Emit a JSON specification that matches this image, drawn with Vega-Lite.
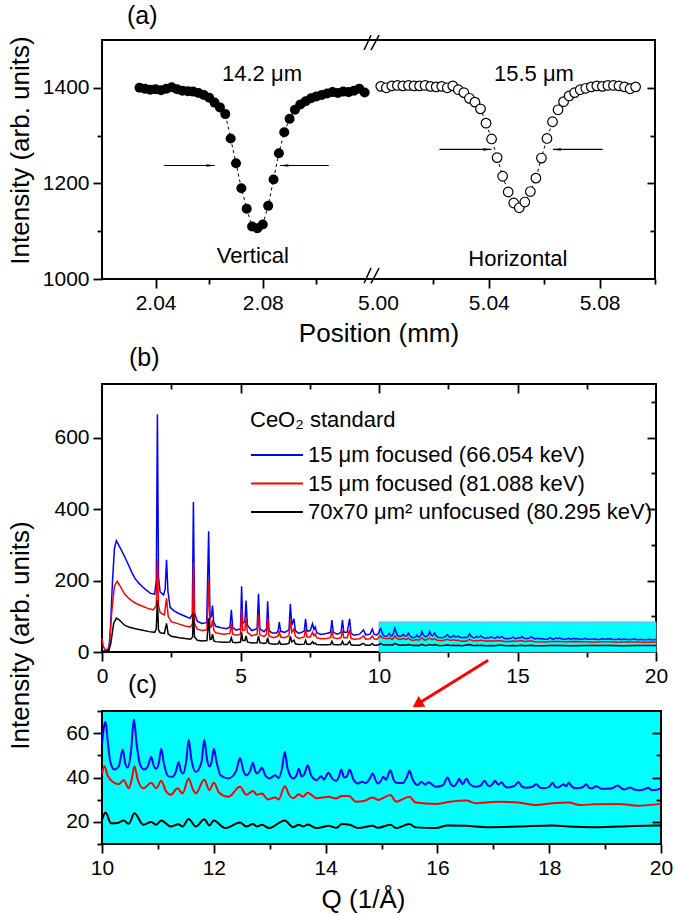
{
"$schema": "https://vega.github.io/schema/vega-lite/v6.json",
"padding": {"left": 5, "top": 3, "right": 5, "bottom": 5},
"background": "white",
"config": {
 "font": "Liberation Sans",
 "view": {"stroke": "black", "strokeWidth": 2},
 "axis": {"domain": false, "grid": false, "labelFontSize": 21, "labelColor": "black", "labelFont": "Liberation Sans", "titleFont": "Liberation Sans", "titleFontSize": 26, "titleFontWeight": "normal", "titleColor": "black", "tickColor": "black", "tickWidth": 1.8, "labelFlush": false, "labelOverlap": false, "labelPadding": 4},
 "title": {"font": "Liberation Sans", "fontSize": 25, "fontWeight": "normal", "color": "black", "anchor": "start", "frame": "group"}
},
"datasets": {
 "scan": [
  {"x":2.034,"y":1400,"d":"V"},{"x":2.036,"y":1398,"d":"V"},{"x":2.038,"y":1396,"d":"V"},{"x":2.040,"y":1397,"d":"V"},{"x":2.042,"y":1395,"d":"V"},{"x":2.044,"y":1398,"d":"V"},{"x":2.046,"y":1401,"d":"V"},{"x":2.048,"y":1397,"d":"V"},{"x":2.050,"y":1394,"d":"V"},{"x":2.052,"y":1393,"d":"V"},{"x":2.054,"y":1392,"d":"V"},{"x":2.056,"y":1389,"d":"V"},{"x":2.058,"y":1385,"d":"V"},{"x":2.060,"y":1379,"d":"V"},{"x":2.062,"y":1369,"d":"V"},{"x":2.064,"y":1359,"d":"V"},{"x":2.066,"y":1345,"d":"V"},{"x":2.068,"y":1294,"d":"V"},{"x":2.070,"y":1242,"d":"V"},{"x":2.072,"y":1190,"d":"V"},{"x":2.074,"y":1147,"d":"V"},{"x":2.076,"y":1110,"d":"V"},{"x":2.078,"y":1106,"d":"V"},{"x":2.080,"y":1114,"d":"V"},{"x":2.082,"y":1153,"d":"V"},{"x":2.084,"y":1208,"d":"V"},{"x":2.086,"y":1263,"d":"V"},{"x":2.088,"y":1307,"d":"V"},{"x":2.090,"y":1335,"d":"V"},{"x":2.092,"y":1354,"d":"V"},{"x":2.094,"y":1365,"d":"V"},{"x":2.096,"y":1372,"d":"V"},{"x":2.098,"y":1378,"d":"V"},{"x":2.100,"y":1382,"d":"V"},{"x":2.102,"y":1385,"d":"V"},{"x":2.104,"y":1388,"d":"V"},{"x":2.106,"y":1391,"d":"V"},{"x":2.108,"y":1389,"d":"V"},{"x":2.110,"y":1392,"d":"V"},{"x":2.112,"y":1391,"d":"V"},{"x":2.114,"y":1394,"d":"V"},{"x":2.116,"y":1398,"d":"V"},{"x":2.118,"y":1390,"d":"V"},
  {"x":5.001,"y":1403,"d":"H"},{"x":5.003,"y":1400,"d":"H"},{"x":5.005,"y":1404,"d":"H"},{"x":5.007,"y":1405,"d":"H"},{"x":5.009,"y":1404,"d":"H"},{"x":5.011,"y":1405,"d":"H"},{"x":5.013,"y":1404,"d":"H"},{"x":5.015,"y":1404,"d":"H"},{"x":5.017,"y":1405,"d":"H"},{"x":5.019,"y":1403,"d":"H"},{"x":5.021,"y":1402,"d":"H"},{"x":5.023,"y":1403,"d":"H"},{"x":5.025,"y":1400,"d":"H"},{"x":5.027,"y":1404,"d":"H"},{"x":5.029,"y":1396,"d":"H"},{"x":5.031,"y":1390,"d":"H"},{"x":5.033,"y":1378,"d":"H"},{"x":5.035,"y":1370,"d":"H"},{"x":5.037,"y":1356,"d":"H"},{"x":5.039,"y":1326,"d":"H"},{"x":5.041,"y":1293,"d":"H"},{"x":5.043,"y":1254,"d":"H"},{"x":5.045,"y":1215,"d":"H"},{"x":5.047,"y":1182,"d":"H"},{"x":5.049,"y":1159,"d":"H"},{"x":5.051,"y":1149,"d":"H"},{"x":5.053,"y":1161,"d":"H"},{"x":5.055,"y":1183,"d":"H"},{"x":5.057,"y":1211,"d":"H"},{"x":5.059,"y":1253,"d":"H"},{"x":5.061,"y":1294,"d":"H"},{"x":5.063,"y":1329,"d":"H"},{"x":5.065,"y":1354,"d":"H"},{"x":5.067,"y":1371,"d":"H"},{"x":5.069,"y":1383,"d":"H"},{"x":5.071,"y":1390,"d":"H"},{"x":5.073,"y":1396,"d":"H"},{"x":5.075,"y":1399,"d":"H"},{"x":5.077,"y":1402,"d":"H"},{"x":5.079,"y":1404,"d":"H"},{"x":5.081,"y":1403,"d":"H"},{"x":5.083,"y":1405,"d":"H"},{"x":5.085,"y":1405,"d":"H"},{"x":5.087,"y":1404,"d":"H"},{"x":5.089,"y":1402,"d":"H"},{"x":5.091,"y":1398,"d":"H"},{"x":5.093,"y":1402,"d":"H"}
 ],
 "scanlab": [
  {"x":2.0797,"y":1414,"t":"14.2 μm"},{"x":5.0563,"y":1414,"t":"15.5 μm"},{"x":2.0763,"y":1033,"t":"Vertical"},{"x":5.0505,"y":1027,"t":"Horizontal"}
 ],
 "scanarrow": [
  {"x":2.0432,"x2":2.0620,"hx":2.0601,"y":1237.5,"dir":"right"},
  {"x":2.1046,"x2":2.0865,"hx":2.0884,"y":1237.5,"dir":"left"},
  {"x":5.0222,"x2":5.0409,"hx":5.0391,"y":1271,"dir":"right"},
  {"x":5.0811,"x2":5.0632,"hx":5.0650,"y":1271,"dir":"left"}
 ],
 "brk": [
  {"x":2.1178,"y":1479,"x2":2.48,"y2":1510},
  {"x":2.48,"y":1479,"x2":5.0004,"y2":1510},
  {"x":2.1178,"y":991,"x2":2.48,"y2":1023},
  {"x":2.48,"y":991,"x2":5.0004,"y2":1023}
 ],
 "box": [{"q":10,"q2":20,"I":0,"I2":84}],
 "redarrow": [{"q":13.94,"I":-23,"q2":11.44,"I2":-143.5}],
 "spec": [
  {"q":0,"I":2,"s":"B"},{"q":0.1,"I":3,"s":"B"},{"q":0.2,"I":5,"s":"B"},{"q":0.25,"I":10,"s":"B"},{"q":0.3,"I":60,"s":"B"},{"q":0.38,"I":200,"s":"B"},{"q":0.45,"I":290,"s":"B"},{"q":0.52,"I":312,"s":"B"},{"q":0.6,"I":300,"s":"B"},{"q":0.7,"I":285,"s":"B"},{"q":0.81,"I":268,"s":"B"},{"q":0.95,"I":245,"s":"B"},{"q":1.08,"I":222,"s":"B"},{"q":1.2,"I":205,"s":"B"},{"q":1.34,"I":192,"s":"B"},{"q":1.47,"I":182,"s":"B"},{"q":1.6,"I":173,"s":"B"},{"q":1.75,"I":164,"s":"B"},{"q":1.9,"I":162,"s":"B"},{"q":1.96,"I":200,"s":"B"},{"q":2.0,"I":665,"s":"B"},{"q":2.04,"I":210,"s":"B"},{"q":2.1,"I":168,"s":"B"},{"q":2.22,"I":160,"s":"B"},{"q":2.28,"I":175,"s":"B"},{"q":2.33,"I":258,"s":"B"},{"q":2.38,"I":170,"s":"B"},{"q":2.46,"I":125,"s":"B"},{"q":2.6,"I":115,"s":"B"},{"q":2.79,"I":107,"s":"B"},{"q":3.0,"I":100,"s":"B"},{"q":3.18,"I":94,"s":"B"},{"q":3.26,"I":105,"s":"B"},{"q":3.3,"I":420,"s":"B"},{"q":3.34,"I":110,"s":"B"},{"q":3.44,"I":86,"s":"B"},{"q":3.6,"I":80,"s":"B"},{"q":3.78,"I":82,"s":"B"},{"q":3.85,"I":338,"s":"B"},{"q":3.9,"I":95,"s":"B"},{"q":3.95,"I":100,"s":"B"},{"q":3.99,"I":130,"s":"B"},{"q":4.03,"I":85,"s":"B"},{"q":4.1,"I":72,"s":"B"},{"q":4.3,"I":68,"s":"B"},{"q":4.5,"I":65,"s":"B"},{"q":4.62,"I":70,"s":"B"},{"q":4.67,"I":118,"s":"B"},{"q":4.72,"I":68,"s":"B"},{"q":4.85,"I":61,"s":"B"},{"q":5.0,"I":65,"s":"B"},{"q":5.04,"I":184,"s":"B"},{"q":5.08,"I":80,"s":"B"},{"q":5.16,"I":85,"s":"B"},{"q":5.2,"I":144,"s":"B"},{"q":5.25,"I":75,"s":"B"},{"q":5.4,"I":60,"s":"B"},{"q":5.6,"I":65,"s":"B"},{"q":5.65,"I":163,"s":"B"},{"q":5.7,"I":65,"s":"B"},{"q":5.85,"I":57,"s":"B"},{"q":5.94,"I":65,"s":"B"},{"q":5.98,"I":142,"s":"B"},{"q":6.03,"I":60,"s":"B"},{"q":6.15,"I":53,"s":"B"},{"q":6.3,"I":53,"s":"B"},{"q":6.36,"I":60,"s":"B"},{"q":6.4,"I":84,"s":"B"},{"q":6.45,"I":58,"s":"B"},{"q":6.6,"I":55,"s":"B"},{"q":6.75,"I":62,"s":"B"},{"q":6.8,"I":135,"s":"B"},{"q":6.85,"I":75,"s":"B"},{"q":6.93,"I":93,"s":"B"},{"q":6.98,"I":60,"s":"B"},{"q":7.1,"I":52,"s":"B"},{"q":7.3,"I":58,"s":"B"},{"q":7.35,"I":93,"s":"B"},{"q":7.4,"I":58,"s":"B"},{"q":7.52,"I":60,"s":"B"},{"q":7.6,"I":79,"s":"B"},{"q":7.65,"I":63,"s":"B"},{"q":7.7,"I":70,"s":"B"},{"q":7.75,"I":54,"s":"B"},{"q":7.9,"I":49,"s":"B"},{"q":8.1,"I":52,"s":"B"},{"q":8.25,"I":55,"s":"B"},{"q":8.3,"I":89,"s":"B"},{"q":8.35,"I":55,"s":"B"},{"q":8.5,"I":50,"s":"B"},{"q":8.63,"I":55,"s":"B"},{"q":8.68,"I":90,"s":"B"},{"q":8.73,"I":55,"s":"B"},{"q":8.85,"I":55,"s":"B"},{"q":8.94,"I":93,"s":"B"},{"q":8.99,"I":52,"s":"B"},{"q":9.1,"I":47,"s":"B"},{"q":9.3,"I":50,"s":"B"},{"q":9.44,"I":62,"s":"B"},{"q":9.52,"I":48,"s":"B"},{"q":9.68,"I":50,"s":"B"},{"q":9.76,"I":64,"s":"B"},{"q":9.82,"I":50,"s":"B"},{"q":9.92,"I":47,"s":"B"},
  {"q":10.0,"I":55,"s":"B"},{"q":10.03,"I":62,"s":"B"},{"q":10.065,"I":65.2,"s":"B"},{"q":10.1,"I":57,"s":"B"},{"q":10.15,"I":47,"s":"B"},{"q":10.22,"I":43.6,"s":"B"},{"q":10.3,"I":45,"s":"B"},{"q":10.37,"I":52.5,"s":"B"},{"q":10.42,"I":46,"s":"B"},{"q":10.46,"I":44.5,"s":"B"},{"q":10.52,"I":52,"s":"B"},{"q":10.57,"I":66.3,"s":"B"},{"q":10.62,"I":55,"s":"B"},{"q":10.68,"I":46,"s":"B"},{"q":10.75,"I":43.6,"s":"B"},{"q":10.82,"I":45,"s":"B"},{"q":10.88,"I":49.3,"s":"B"},{"q":10.93,"I":45,"s":"B"},{"q":10.97,"I":44,"s":"B"},{"q":11.02,"I":47,"s":"B"},{"q":11.06,"I":53,"s":"B"},{"q":11.11,"I":46,"s":"B"},{"q":11.19,"I":40.5,"s":"B"},{"q":11.26,"I":40.3,"s":"B"},{"q":11.32,"I":42.5,"s":"B"},{"q":11.37,"I":47,"s":"B"},{"q":11.41,"I":43,"s":"B"},{"q":11.45,"I":41.8,"s":"B"},{"q":11.51,"I":48,"s":"B"},{"q":11.55,"I":57,"s":"B"},{"q":11.6,"I":48,"s":"B"},{"q":11.68,"I":42.5,"s":"B"},{"q":11.78,"I":47,"s":"B"},{"q":11.83,"I":57,"s":"B"},{"q":11.88,"I":48,"s":"B"},{"q":11.92,"I":45,"s":"B"},{"q":11.96,"I":47,"s":"B"},{"q":12.0,"I":53,"s":"B"},{"q":12.05,"I":47,"s":"B"},{"q":12.12,"I":41,"s":"B"},{"q":12.26,"I":39.6,"s":"B"},{"q":12.4,"I":43,"s":"B"},{"q":12.47,"I":48.8,"s":"B"},{"q":12.53,"I":43,"s":"B"},{"q":12.58,"I":41,"s":"B"},{"q":12.65,"I":43,"s":"B"},{"q":12.7,"I":46.6,"s":"B"},{"q":12.74,"I":43,"s":"B"},{"q":12.77,"I":41.8,"s":"B"},{"q":12.82,"I":43,"s":"B"},{"q":12.86,"I":44.5,"s":"B"},{"q":12.92,"I":41,"s":"B"},{"q":12.99,"I":39.6,"s":"B"},{"q":13.1,"I":41,"s":"B"},{"q":13.16,"I":39.8,"s":"B"},{"q":13.22,"I":44,"s":"B"},{"q":13.27,"I":51.5,"s":"B"},{"q":13.32,"I":44,"s":"B"},{"q":13.42,"I":39.6,"s":"B"},{"q":13.48,"I":41,"s":"B"},{"q":13.52,"I":44,"s":"B"},{"q":13.57,"I":40.5,"s":"B"},{"q":13.62,"I":41.5,"s":"B"},{"q":13.68,"I":45.5,"s":"B"},{"q":13.74,"I":41,"s":"B"},{"q":13.84,"I":38.8,"s":"B"},{"q":13.92,"I":40.6,"s":"B"},{"q":13.97,"I":39.1,"s":"B"},{"q":14.05,"I":42.1,"s":"B"},{"q":14.12,"I":39.5,"s":"B"},{"q":14.19,"I":38.5,"s":"B"},{"q":14.24,"I":40.5,"s":"B"},{"q":14.28,"I":43.6,"s":"B"},{"q":14.33,"I":40,"s":"B"},{"q":14.38,"I":40.5,"s":"B"},{"q":14.43,"I":43.6,"s":"B"},{"q":14.5,"I":39,"s":"B"},{"q":14.58,"I":37.3,"s":"B"},{"q":14.65,"I":38.1,"s":"B"},{"q":14.72,"I":37.5,"s":"B"},{"q":14.79,"I":39.5,"s":"B"},{"q":14.84,"I":41.8,"s":"B"},{"q":14.9,"I":38.5,"s":"B"},{"q":14.94,"I":37.3,"s":"B"},{"q":15.0,"I":39,"s":"B"},{"q":15.03,"I":40.3,"s":"B"},{"q":15.08,"I":39,"s":"B"},{"q":15.16,"I":43.3,"s":"B"},{"q":15.21,"I":39.5,"s":"B"},{"q":15.26,"I":37.6,"s":"B"},{"q":15.38,"I":37.5,"s":"B"},{"q":15.45,"I":40,"s":"B"},{"q":15.5,"I":43,"s":"B"},{"q":15.56,"I":39,"s":"B"},{"q":15.65,"I":36.6,"s":"B"},{"q":15.71,"I":38.1,"s":"B"},{"q":15.78,"I":36.8,"s":"B"},{"q":15.84,"I":37.9,"s":"B"},{"q":15.97,"I":35.8,"s":"B"},{"q":16.1,"I":36.5,"s":"B"},{"q":16.18,"I":40,"s":"B"},{"q":16.24,"I":37,"s":"B"},{"q":16.29,"I":36.1,"s":"B"},{"q":16.35,"I":37.5,"s":"B"},{"q":16.39,"I":39.4,"s":"B"},{"q":16.45,"I":37,"s":"B"},{"q":16.52,"I":39.4,"s":"B"},{"q":16.58,"I":37,"s":"B"},{"q":16.68,"I":35.8,"s":"B"},{"q":16.78,"I":36.5,"s":"B"},{"q":16.84,"I":38.5,"s":"B"},{"q":16.9,"I":36.5,"s":"B"},{"q":16.94,"I":36.1,"s":"B"},{"q":16.99,"I":37.2,"s":"B"},{"q":17.03,"I":38.5,"s":"B"},{"q":17.09,"I":36.8,"s":"B"},{"q":17.15,"I":37.9,"s":"B"},{"q":17.2,"I":36.2,"s":"B"},{"q":17.26,"I":35.5,"s":"B"},{"q":17.38,"I":36.2,"s":"B"},{"q":17.45,"I":38,"s":"B"},{"q":17.51,"I":36,"s":"B"},{"q":17.58,"I":35.4,"s":"B"},{"q":17.7,"I":35.8,"s":"B"},{"q":17.77,"I":36.9,"s":"B"},{"q":17.84,"I":35.4,"s":"B"},{"q":17.9,"I":35.2,"s":"B"},{"q":18.0,"I":35.8,"s":"B"},{"q":18.06,"I":37.6,"s":"B"},{"q":18.11,"I":35.8,"s":"B"},{"q":18.16,"I":35.5,"s":"B"},{"q":18.26,"I":37,"s":"B"},{"q":18.3,"I":36,"s":"B"},{"q":18.35,"I":37.6,"s":"B"},{"q":18.41,"I":35.8,"s":"B"},{"q":18.48,"I":35.2,"s":"B"},{"q":18.6,"I":35.6,"s":"B"},{"q":18.66,"I":36.9,"s":"B"},{"q":18.72,"I":35.3,"s":"B"},{"q":18.77,"I":35.2,"s":"B"},{"q":18.84,"I":36.1,"s":"B"},{"q":18.94,"I":34.9,"s":"B"},{"q":19.1,"I":35,"s":"B"},{"q":19.23,"I":36.4,"s":"B"},{"q":19.3,"I":35,"s":"B"},{"q":19.35,"I":34.6,"s":"B"},{"q":19.45,"I":35.5,"s":"B"},{"q":19.52,"I":34.6,"s":"B"},{"q":19.61,"I":34.3,"s":"B"},{"q":19.7,"I":34.7,"s":"B"},{"q":19.77,"I":35.4,"s":"B"},{"q":19.84,"I":34.3,"s":"B"},{"q":19.92,"I":34.5,"s":"B"},{"q":20.0,"I":35,"s":"B"},
  {"q":0,"I":38,"s":"R"},{"q":0.05,"I":15,"s":"R"},{"q":0.12,"I":6,"s":"R"},{"q":0.2,"I":7,"s":"R"},{"q":0.27,"I":20,"s":"R"},{"q":0.35,"I":110,"s":"R"},{"q":0.45,"I":185,"s":"R"},{"q":0.55,"I":198,"s":"R"},{"q":0.65,"I":185,"s":"R"},{"q":0.81,"I":163,"s":"R"},{"q":0.95,"I":152,"s":"R"},{"q":1.08,"I":143,"s":"R"},{"q":1.25,"I":135,"s":"R"},{"q":1.47,"I":128,"s":"R"},{"q":1.65,"I":122,"s":"R"},{"q":1.85,"I":118,"s":"R"},{"q":1.96,"I":130,"s":"R"},{"q":2.0,"I":260,"s":"R"},{"q":2.04,"I":130,"s":"R"},{"q":2.1,"I":110,"s":"R"},{"q":2.25,"I":104,"s":"R"},{"q":2.33,"I":150,"s":"R"},{"q":2.39,"I":100,"s":"R"},{"q":2.5,"I":85,"s":"R"},{"q":2.79,"I":78,"s":"R"},{"q":3.0,"I":73,"s":"R"},{"q":3.2,"I":70,"s":"R"},{"q":3.27,"I":80,"s":"R"},{"q":3.3,"I":250,"s":"R"},{"q":3.34,"I":80,"s":"R"},{"q":3.44,"I":64,"s":"R"},{"q":3.62,"I":60,"s":"R"},{"q":3.79,"I":62,"s":"R"},{"q":3.85,"I":200,"s":"R"},{"q":3.9,"I":68,"s":"R"},{"q":3.95,"I":72,"s":"R"},{"q":3.99,"I":90,"s":"R"},{"q":4.04,"I":60,"s":"R"},{"q":4.1,"I":54,"s":"R"},{"q":4.4,"I":50,"s":"R"},{"q":4.62,"I":52,"s":"R"},{"q":4.67,"I":80,"s":"R"},{"q":4.72,"I":50,"s":"R"},{"q":4.85,"I":47,"s":"R"},{"q":5.0,"I":50,"s":"R"},{"q":5.04,"I":120,"s":"R"},{"q":5.08,"I":60,"s":"R"},{"q":5.16,"I":62,"s":"R"},{"q":5.2,"I":95,"s":"R"},{"q":5.25,"I":55,"s":"R"},{"q":5.4,"I":45,"s":"R"},{"q":5.6,"I":50,"s":"R"},{"q":5.65,"I":105,"s":"R"},{"q":5.7,"I":48,"s":"R"},{"q":5.85,"I":43,"s":"R"},{"q":5.94,"I":50,"s":"R"},{"q":5.98,"I":95,"s":"R"},{"q":6.03,"I":45,"s":"R"},{"q":6.2,"I":40,"s":"R"},{"q":6.36,"I":45,"s":"R"},{"q":6.4,"I":58,"s":"R"},{"q":6.45,"I":42,"s":"R"},{"q":6.6,"I":40,"s":"R"},{"q":6.75,"I":46,"s":"R"},{"q":6.8,"I":90,"s":"R"},{"q":6.85,"I":55,"s":"R"},{"q":6.93,"I":65,"s":"R"},{"q":6.98,"I":44,"s":"R"},{"q":7.1,"I":38,"s":"R"},{"q":7.3,"I":42,"s":"R"},{"q":7.35,"I":65,"s":"R"},{"q":7.4,"I":42,"s":"R"},{"q":7.52,"I":42,"s":"R"},{"q":7.6,"I":55,"s":"R"},{"q":7.65,"I":46,"s":"R"},{"q":7.7,"I":50,"s":"R"},{"q":7.75,"I":40,"s":"R"},{"q":7.9,"I":37,"s":"R"},{"q":8.1,"I":38,"s":"R"},{"q":8.25,"I":40,"s":"R"},{"q":8.3,"I":60,"s":"R"},{"q":8.35,"I":40,"s":"R"},{"q":8.5,"I":37,"s":"R"},{"q":8.63,"I":40,"s":"R"},{"q":8.68,"I":60,"s":"R"},{"q":8.73,"I":40,"s":"R"},{"q":8.85,"I":40,"s":"R"},{"q":8.94,"I":62,"s":"R"},{"q":8.99,"I":38,"s":"R"},{"q":9.1,"I":36,"s":"R"},{"q":9.3,"I":37,"s":"R"},{"q":9.44,"I":45,"s":"R"},{"q":9.52,"I":36,"s":"R"},{"q":9.68,"I":37,"s":"R"},{"q":9.76,"I":45,"s":"R"},{"q":9.82,"I":37,"s":"R"},{"q":9.92,"I":35,"s":"R"},
  {"q":10.0,"I":41.8,"s":"R"},{"q":10.045,"I":45.1,"s":"R"},{"q":10.1,"I":41,"s":"R"},{"q":10.19,"I":38.1,"s":"R"},{"q":10.3,"I":37,"s":"R"},{"q":10.39,"I":38.8,"s":"R"},{"q":10.48,"I":35.1,"s":"R"},{"q":10.53,"I":39,"s":"R"},{"q":10.58,"I":45.1,"s":"R"},{"q":10.64,"I":39,"s":"R"},{"q":10.74,"I":35.1,"s":"R"},{"q":10.88,"I":37.6,"s":"R"},{"q":10.97,"I":35.1,"s":"R"},{"q":11.06,"I":38.5,"s":"R"},{"q":11.14,"I":34,"s":"R"},{"q":11.23,"I":32.2,"s":"R"},{"q":11.35,"I":35.1,"s":"R"},{"q":11.44,"I":32.8,"s":"R"},{"q":11.55,"I":39.6,"s":"R"},{"q":11.62,"I":35,"s":"R"},{"q":11.68,"I":32.8,"s":"R"},{"q":11.83,"I":39.1,"s":"R"},{"q":11.92,"I":34.3,"s":"R"},{"q":12.0,"I":37.6,"s":"R"},{"q":12.1,"I":33,"s":"R"},{"q":12.26,"I":31.3,"s":"R"},{"q":12.47,"I":35.8,"s":"R"},{"q":12.58,"I":32.2,"s":"R"},{"q":12.7,"I":33.9,"s":"R"},{"q":12.77,"I":32.2,"s":"R"},{"q":12.86,"I":32.8,"s":"R"},{"q":12.97,"I":30.1,"s":"R"},{"q":13.1,"I":31,"s":"R"},{"q":13.16,"I":30.1,"s":"R"},{"q":13.27,"I":36.1,"s":"R"},{"q":13.35,"I":32,"s":"R"},{"q":13.42,"I":30.6,"s":"R"},{"q":13.52,"I":32.4,"s":"R"},{"q":13.59,"I":31.3,"s":"R"},{"q":13.68,"I":33.1,"s":"R"},{"q":13.84,"I":30.6,"s":"R"},{"q":14.06,"I":31.3,"s":"R"},{"q":14.18,"I":30.5,"s":"R"},{"q":14.29,"I":31.6,"s":"R"},{"q":14.42,"I":31.6,"s":"R"},{"q":14.54,"I":29.1,"s":"R"},{"q":14.7,"I":29.5,"s":"R"},{"q":14.84,"I":31,"s":"R"},{"q":14.94,"I":29.9,"s":"R"},{"q":15.16,"I":32.1,"s":"R"},{"q":15.26,"I":29.1,"s":"R"},{"q":15.5,"I":31.3,"s":"R"},{"q":15.61,"I":28.7,"s":"R"},{"q":15.97,"I":28.1,"s":"R"},{"q":16.23,"I":29.1,"s":"R"},{"q":16.52,"I":29.6,"s":"R"},{"q":16.68,"I":28.4,"s":"R"},{"q":17.06,"I":29.1,"s":"R"},{"q":17.45,"I":28.7,"s":"R"},{"q":17.77,"I":27.6,"s":"R"},{"q":18.06,"I":28.4,"s":"R"},{"q":18.35,"I":28.7,"s":"R"},{"q":18.55,"I":27.6,"s":"R"},{"q":18.81,"I":27.9,"s":"R"},{"q":19.26,"I":28.1,"s":"R"},{"q":19.58,"I":27.3,"s":"R"},{"q":20.0,"I":28.1,"s":"R"},
  {"q":0,"I":2,"s":"K"},{"q":0.15,"I":2,"s":"K"},{"q":0.25,"I":4,"s":"K"},{"q":0.32,"I":25,"s":"K"},{"q":0.42,"I":80,"s":"K"},{"q":0.52,"I":95,"s":"K"},{"q":0.62,"I":90,"s":"K"},{"q":0.81,"I":75,"s":"K"},{"q":1.0,"I":69,"s":"K"},{"q":1.2,"I":65,"s":"K"},{"q":1.47,"I":61,"s":"K"},{"q":1.7,"I":57,"s":"K"},{"q":1.9,"I":55,"s":"K"},{"q":1.96,"I":65,"s":"K"},{"q":2.0,"I":145,"s":"K"},{"q":2.04,"I":62,"s":"K"},{"q":2.1,"I":54,"s":"K"},{"q":2.25,"I":52,"s":"K"},{"q":2.33,"I":80,"s":"K"},{"q":2.39,"I":50,"s":"K"},{"q":2.5,"I":44,"s":"K"},{"q":2.79,"I":40,"s":"K"},{"q":3.0,"I":38,"s":"K"},{"q":3.2,"I":36,"s":"K"},{"q":3.27,"I":42,"s":"K"},{"q":3.3,"I":110,"s":"K"},{"q":3.34,"I":42,"s":"K"},{"q":3.44,"I":33,"s":"K"},{"q":3.62,"I":31,"s":"K"},{"q":3.79,"I":32,"s":"K"},{"q":3.85,"I":95,"s":"K"},{"q":3.9,"I":35,"s":"K"},{"q":3.95,"I":36,"s":"K"},{"q":3.99,"I":50,"s":"K"},{"q":4.04,"I":31,"s":"K"},{"q":4.1,"I":29,"s":"K"},{"q":4.4,"I":27,"s":"K"},{"q":4.62,"I":28,"s":"K"},{"q":4.67,"I":40,"s":"K"},{"q":4.72,"I":27,"s":"K"},{"q":4.85,"I":26,"s":"K"},{"q":5.0,"I":28,"s":"K"},{"q":5.04,"I":55,"s":"K"},{"q":5.08,"I":32,"s":"K"},{"q":5.16,"I":32,"s":"K"},{"q":5.2,"I":45,"s":"K"},{"q":5.25,"I":28,"s":"K"},{"q":5.4,"I":25,"s":"K"},{"q":5.6,"I":26,"s":"K"},{"q":5.65,"I":45,"s":"K"},{"q":5.7,"I":26,"s":"K"},{"q":5.85,"I":24,"s":"K"},{"q":5.94,"I":26,"s":"K"},{"q":5.98,"I":40,"s":"K"},{"q":6.03,"I":24,"s":"K"},{"q":6.2,"I":22,"s":"K"},{"q":6.36,"I":23,"s":"K"},{"q":6.4,"I":30,"s":"K"},{"q":6.45,"I":22,"s":"K"},{"q":6.6,"I":22,"s":"K"},{"q":6.75,"I":24,"s":"K"},{"q":6.8,"I":44,"s":"K"},{"q":6.85,"I":28,"s":"K"},{"q":6.93,"I":33,"s":"K"},{"q":6.98,"I":23,"s":"K"},{"q":7.1,"I":21,"s":"K"},{"q":7.3,"I":22,"s":"K"},{"q":7.35,"I":33,"s":"K"},{"q":7.4,"I":22,"s":"K"},{"q":7.52,"I":22,"s":"K"},{"q":7.6,"I":29,"s":"K"},{"q":7.65,"I":23,"s":"K"},{"q":7.7,"I":25,"s":"K"},{"q":7.75,"I":21,"s":"K"},{"q":7.9,"I":20,"s":"K"},{"q":8.1,"I":20,"s":"K"},{"q":8.25,"I":21,"s":"K"},{"q":8.3,"I":30,"s":"K"},{"q":8.35,"I":21,"s":"K"},{"q":8.5,"I":20,"s":"K"},{"q":8.63,"I":21,"s":"K"},{"q":8.68,"I":30,"s":"K"},{"q":8.73,"I":21,"s":"K"},{"q":8.85,"I":21,"s":"K"},{"q":8.94,"I":30,"s":"K"},{"q":8.99,"I":20,"s":"K"},{"q":9.1,"I":19,"s":"K"},{"q":9.3,"I":19,"s":"K"},{"q":9.44,"I":24,"s":"K"},{"q":9.52,"I":19,"s":"K"},{"q":9.68,"I":19,"s":"K"},{"q":9.76,"I":24,"s":"K"},{"q":9.82,"I":19,"s":"K"},{"q":9.92,"I":19,"s":"K"},
  {"q":10.0,"I":21,"s":"K"},{"q":10.065,"I":24.2,"s":"K"},{"q":10.16,"I":19.4,"s":"K"},{"q":10.28,"I":19.5,"s":"K"},{"q":10.39,"I":20.6,"s":"K"},{"q":10.48,"I":19.1,"s":"K"},{"q":10.58,"I":23.9,"s":"K"},{"q":10.74,"I":18.7,"s":"K"},{"q":10.88,"I":19.9,"s":"K"},{"q":10.97,"I":18.7,"s":"K"},{"q":11.06,"I":20.6,"s":"K"},{"q":11.23,"I":17.9,"s":"K"},{"q":11.37,"I":18.9,"s":"K"},{"q":11.44,"I":17.9,"s":"K"},{"q":11.55,"I":21.3,"s":"K"},{"q":11.68,"I":17.9,"s":"K"},{"q":11.83,"I":21.2,"s":"K"},{"q":11.92,"I":18.4,"s":"K"},{"q":12.0,"I":20.6,"s":"K"},{"q":12.2,"I":17.2,"s":"K"},{"q":12.47,"I":19.7,"s":"K"},{"q":12.58,"I":17.9,"s":"K"},{"q":12.7,"I":19,"s":"K"},{"q":12.77,"I":17.9,"s":"K"},{"q":12.86,"I":18.7,"s":"K"},{"q":12.99,"I":17.2,"s":"K"},{"q":13.27,"I":20.6,"s":"K"},{"q":13.42,"I":17.6,"s":"K"},{"q":13.52,"I":18.7,"s":"K"},{"q":13.6,"I":17.9,"s":"K"},{"q":13.68,"I":18.8,"s":"K"},{"q":13.84,"I":17.2,"s":"K"},{"q":14.06,"I":18.2,"s":"K"},{"q":14.19,"I":17.3,"s":"K"},{"q":14.29,"I":19,"s":"K"},{"q":14.43,"I":18.7,"s":"K"},{"q":14.58,"I":17.2,"s":"K"},{"q":14.84,"I":18.2,"s":"K"},{"q":14.94,"I":17.3,"s":"K"},{"q":15.16,"I":18.7,"s":"K"},{"q":15.26,"I":17.2,"s":"K"},{"q":15.5,"I":19,"s":"K"},{"q":15.61,"I":17.5,"s":"K"},{"q":15.97,"I":17.2,"s":"K"},{"q":16.18,"I":18.4,"s":"K"},{"q":16.52,"I":18.2,"s":"K"},{"q":16.9,"I":17.6,"s":"K"},{"q":17.45,"I":17.9,"s":"K"},{"q":18.06,"I":18.4,"s":"K"},{"q":18.35,"I":17.9,"s":"K"},{"q":18.81,"I":17.6,"s":"K"},{"q":19.26,"I":17.9,"s":"K"},{"q":19.9,"I":18.4,"s":"K"},{"q":20.0,"I":18.3,"s":"K"}
 ]
},
"spacing": 105,
"bounds": "flush",
"vconcat": [
 {
  "width": 553, "height": 239,
  "title": {"text": "(a)", "dx": 25, "offset": 5},
  "layer": [
   {"layer": [
    {"data": {"name": "scan"}, "mark": {"type": "line", "color": "black", "strokeWidth": 1, "strokeDash": [3, 3]},
     "encoding": {
      "x": {"field": "x", "type": "quantitative", "scale": {"domain": [2.02, 2.12, 5.0, 5.1], "range": [0, 268, 276, 553], "nice": false, "zero": false},
            "axis": {"title": "Position (mm)", "values": [2.04, 2.06, 2.08, 2.10, 5.0, 5.02, 5.04, 5.06, 5.08, 5.10],
                     "labelExpr": "round(datum.value*100) % 4 === 0 ? format(datum.value, '.2f') : ''",
                     "tickSize": {"condition": {"test": "round(datum.value*100) % 4 === 0", "value": 9}, "value": 5},
                     "tickOpacity": {"condition": {"test": "round(datum.value*100) === 500", "value": 0}, "value": 1},
                     "titleY": 62, "titleBaseline": "alphabetic"}},
      "y": {"field": "y", "type": "quantitative", "scale": {"domain": [1000, 1500], "nice": false, "zero": false},
            "axis": {"title": "Intensity (arb. units)", "values": [1000, 1100, 1200, 1300, 1400], "format": "d",
                     "labelExpr": "datum.value % 200 === 0 ? datum.label : ''",
                     "tickSize": {"condition": {"test": "datum.value % 200 === 0", "value": 9}, "value": 5},
                     "titleX": -74, "titleY": 110, "titleBaseline": "alphabetic", "titleAngle": 270}},
      "detail": {"field": "d"}
     }},
    {"data": {"name": "scan"}, "transform": [{"filter": "datum.d === 'V'"}],
     "mark": {"type": "point", "shape": "circle", "filled": true, "color": "black", "size": 100, "opacity": 1},
     "encoding": {"x": {"field": "x", "type": "quantitative"}, "y": {"field": "y", "type": "quantitative"}}},
    {"data": {"name": "scan"}, "transform": [{"filter": "datum.d === 'H'"}],
     "mark": {"type": "point", "shape": "circle", "filled": true, "fill": "white", "stroke": "black", "strokeWidth": 1.2, "size": 92, "opacity": 1},
     "encoding": {"x": {"field": "x", "type": "quantitative"}, "y": {"field": "y", "type": "quantitative"}}},
    {"data": {"name": "scanlab"}, "mark": {"type": "text", "fontSize": 22, "align": "center", "baseline": "alphabetic", "color": "black"},
     "encoding": {"x": {"field": "x", "type": "quantitative"}, "y": {"field": "y", "type": "quantitative"}, "text": {"field": "t"}}},
    {"data": {"name": "scanarrow"}, "mark": {"type": "rule", "color": "black", "strokeWidth": 1.2},
     "encoding": {"x": {"field": "x", "type": "quantitative"}, "x2": {"field": "x2"}, "y": {"field": "y", "type": "quantitative"}}},
    {"data": {"name": "scanarrow"}, "transform": [{"filter": "datum.dir === 'right'"}],
     "mark": {"type": "point", "shape": "wedge", "angle": 90, "filled": true, "color": "black", "size": 110, "opacity": 1},
     "encoding": {"x": {"field": "hx", "type": "quantitative"}, "y": {"field": "y", "type": "quantitative"}}},
    {"data": {"name": "scanarrow"}, "transform": [{"filter": "datum.dir === 'left'"}],
     "mark": {"type": "point", "shape": "wedge", "angle": 270, "filled": true, "color": "black", "size": 110, "opacity": 1},
     "encoding": {"x": {"field": "hx", "type": "quantitative"}, "y": {"field": "y", "type": "quantitative"}}},
    {"data": {"name": "brk"}, "mark": {"type": "rule", "color": "black", "strokeWidth": 1.5},
     "encoding": {"x": {"field": "x", "type": "quantitative"}, "x2": {"field": "x2"}, "y": {"field": "y", "type": "quantitative"}, "y2": {"field": "y2"}}}
   ]},
   {"data": {"name": "box"}, "mark": {"type": "point", "opacity": 0},
    "encoding": {"y": {"field": "I", "type": "quantitative", "scale": {"domain": [1000, 1500], "nice": false, "zero": false},
      "axis": {"orient": "right", "values": [1100, 1200, 1300, 1400], "labels": false, "title": null,
               "tickSize": {"condition": {"test": "datum.value % 200 === 0", "value": -8}, "value": -5}}}}}
  ],
  "resolve": {"scale": {"y": "independent"}}
 },
 {
  "spacing": 59,
  "bounds": "flush",
  "resolve": {"scale": {"color": "independent"}},
  "vconcat": [
   {
    "width": 554, "height": 268,
    "title": {"text": "(b)", "dx": 27, "offset": 12},
    "layer": [
     {"layer": [
      {"data": {"name": "box"}, "mark": {"type": "rect", "fill": "#00ffff", "stroke": "#9a9ad8", "strokeWidth": 1},
       "encoding": {
        "x": {"field": "q", "type": "quantitative", "scale": {"domain": [0, 20], "nice": false, "zero": false},
              "axis": {"title": null, "values": [0, 2.5, 5, 7.5, 10, 12.5, 15, 17.5, 20],
                       "labelExpr": "datum.value % 5 === 0 ? datum.label : ''",
                       "tickSize": {"condition": {"test": "datum.value % 5 === 0", "value": 9}, "value": 5}}},
        "x2": {"field": "q2"},
        "y": {"field": "I", "type": "quantitative", "scale": {"domain": [0, 750], "nice": false, "zero": false},
              "axis": {"title": "Intensity (arb. units)", "values": [0, 100, 200, 300, 400, 500, 600, 700],
                       "labelExpr": "datum.value % 200 === 0 ? datum.label : ''",
                       "tickSize": {"condition": {"test": "datum.value % 200 === 0", "value": 9}, "value": 5},
                       "titleX": -74, "titleY": 251, "titleBaseline": "alphabetic", "titleAngle": 270}},
        "y2": {"field": "I2"}
       }},
      {"data": {"name": "spec"}, "mark": {"type": "line", "strokeWidth": 1.5},
       "encoding": {
        "x": {"field": "q", "type": "quantitative"},
        "y": {"field": "I", "type": "quantitative"},
        "color": {"field": "s", "type": "nominal", "scale": {"domain": ["B", "R", "K"], "range": ["#0000ff", "#ff0000", "#000000"]},
          "legend": {"orient": "none", "legendX": 148, "legendY": 26, "title": "CeO₂ standard", "titleFontSize": 22, "titleFontWeight": "normal", "titleColor": "black", "titleFont": "Liberation Sans",
                     "labelFontSize": 22, "labelColor": "black", "labelFont": "Liberation Sans", "labelLimit": 600,
                     "symbolType": "M-1,0H4.2", "symbolSize": 400, "symbolStrokeWidth": 2, "labelOffset": 36, "rowPadding": 6.5, "titlePadding": 12, "padding": 0,
                     "labelExpr": "datum.value === 'B' ? '15 μm focused (66.054 keV)' : datum.value === 'R' ? '15 μm focused (81.088 keV)' : '70x70 μm² unfocused (80.295 keV)'"}}
       }},
      {"data": {"name": "redarrow"}, "mark": {"type": "rule", "color": "#ff0000", "strokeWidth": 3},
       "encoding": {"x": {"field": "q", "type": "quantitative"}, "x2": {"field": "q2"}, "y": {"field": "I", "type": "quantitative"}, "y2": {"field": "I2"}}},
      {"data": {"name": "redarrow"}, "mark": {"type": "point", "shape": "triangle", "angle": 238, "filled": true, "color": "#ff0000", "size": 160, "opacity": 1},
       "encoding": {"x": {"field": "q2", "type": "quantitative"}, "y": {"field": "I2", "type": "quantitative"}}}
     ]},
     {"data": {"name": "box"}, "mark": {"type": "point", "opacity": 0},
      "encoding": {
       "x": {"field": "q", "type": "quantitative", "scale": {"domain": [0, 20], "nice": false, "zero": false},
             "axis": {"orient": "top", "values": [2.5, 5, 7.5, 10, 12.5, 15, 17.5], "labels": false, "title": null,
                      "tickSize": {"condition": {"test": "datum.value % 5 === 0", "value": -9}, "value": -5}}},
       "y": {"field": "I", "type": "quantitative", "scale": {"domain": [0, 750], "nice": false, "zero": false},
             "axis": {"orient": "right", "values": [100, 200, 300, 400, 500, 600, 700], "labels": false, "title": null,
                      "tickSize": {"condition": {"test": "datum.value % 200 === 0", "value": -9}, "value": -5}}}
      }}
    ],
    "resolve": {"scale": {"x": "independent", "y": "independent"}}
   },
   {
    "width": 559, "height": 133,
    "title": {"text": "(c)", "dx": 26, "offset": 2},
    "view": {"fill": "#00ffff", "stroke": "black", "strokeWidth": 2},
    "layer": [
     {"data": {"name": "spec"}, "transform": [{"filter": "datum.q >= 10"}], "mark": {"type": "line", "strokeWidth": 2, "interpolate": "monotone"},
      "encoding": {
       "x": {"field": "q", "type": "quantitative", "scale": {"domain": [10, 20], "nice": false, "zero": false},
             "axis": {"title": "Q (1/Å)", "values": [10, 11, 12, 13, 14, 15, 16, 17, 18, 19, 20],
                      "labelExpr": "datum.value % 2 === 0 ? datum.label : ''",
                      "tickSize": {"condition": {"test": "datum.value % 2 === 0", "value": 9}, "value": 5},
                      "titleX": 261, "titleY": 63, "titleBaseline": "alphabetic"}},
       "y": {"field": "I", "type": "quantitative", "scale": {"domain": [10, 70], "nice": false, "zero": false},
             "axis": {"title": null, "values": [10, 20, 30, 40, 50, 60, 70],
                      "labelExpr": "datum.value % 20 === 0 ? datum.label : ''",
                      "tickSize": {"condition": {"test": "datum.value % 20 === 0", "value": 9}, "value": 5}}},
       "color": {"field": "s", "type": "nominal", "scale": {"domain": ["B", "R", "K"], "range": ["#0000ff", "#ff0000", "#000000"]}, "legend": null}
      }},
     {"data": {"name": "box"}, "mark": {"type": "point", "opacity": 0},
      "encoding": {"y": {"field": "I", "type": "quantitative", "scale": {"domain": [10, 70], "nice": false, "zero": false},
        "axis": {"orient": "right", "values": [20, 30, 40, 50, 60], "labels": false, "title": null,
                 "tickSize": {"condition": {"test": "datum.value % 20 === 0", "value": -9}, "value": -5}}}}}
    ],
    "resolve": {"scale": {"y": "independent"}}
   }
  ]
 }
]
}
